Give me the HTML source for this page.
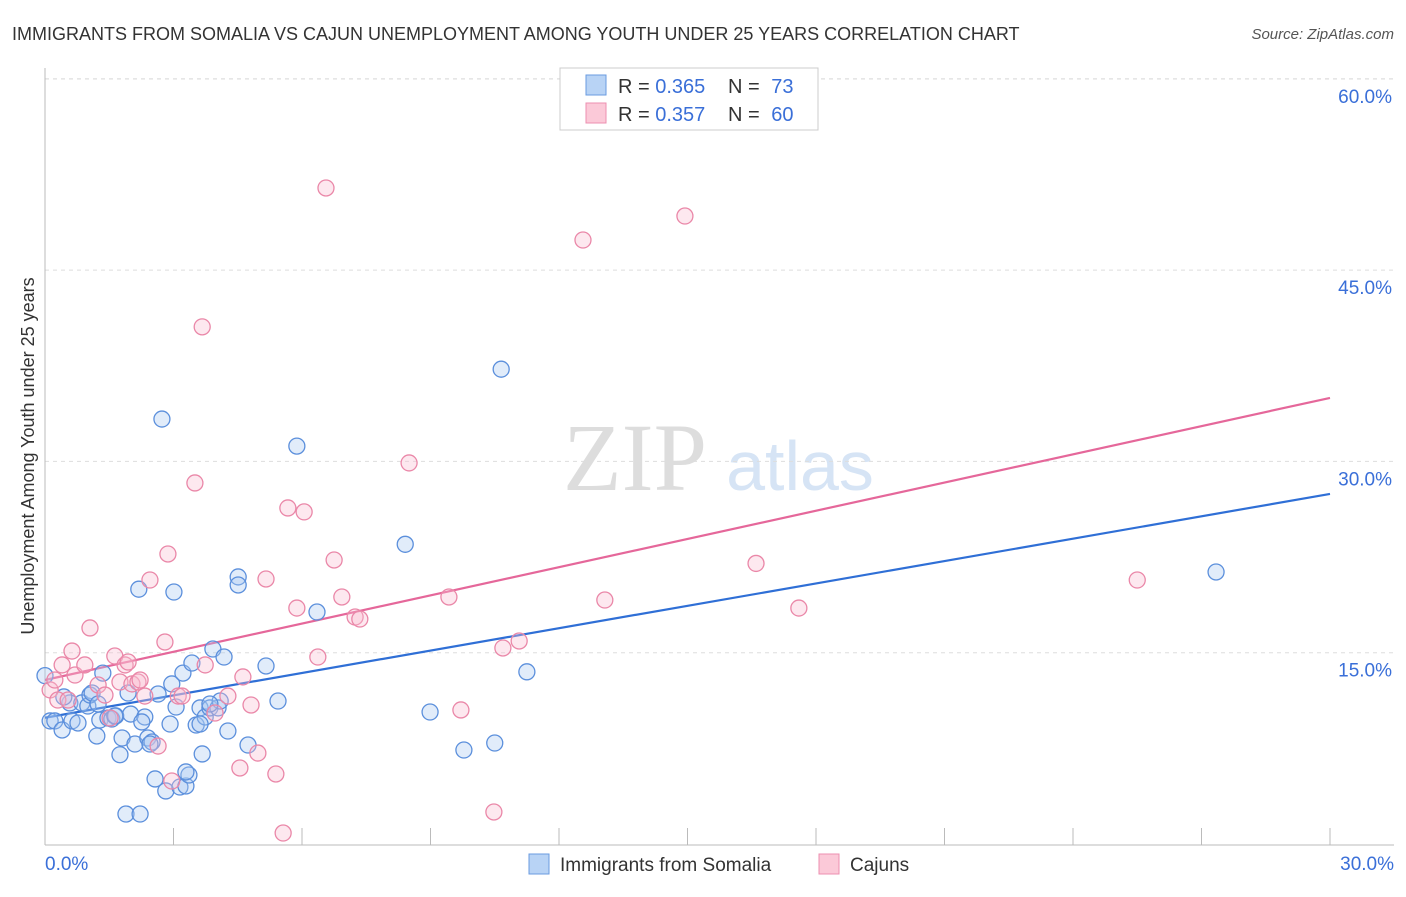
<!DOCTYPE html>
<html><head><meta charset="utf-8"><style>
html,body{margin:0;padding:0;background:#fff;}
body{width:1406px;height:892px;overflow:hidden;font-family:"Liberation Sans",sans-serif;}
</style></head><body>
<svg id="chart" width="1406" height="892" xmlns="http://www.w3.org/2000/svg" font-family="Liberation Sans, sans-serif">
<text x="12" y="40" font-size="18" fill="#333">IMMIGRANTS FROM SOMALIA VS CAJUN UNEMPLOYMENT AMONG YOUTH UNDER 25 YEARS CORRELATION CHART</text>
<text x="1394" y="39" font-size="15" fill="#555" font-style="italic" text-anchor="end">Source: ZipAtlas.com</text>
<g>
<text x="635" y="490" font-size="96" fill="#ddd" font-family="Liberation Serif, serif" text-anchor="middle">ZIP</text>
<text x="800" y="490" font-size="70" fill="#d6e4f5" text-anchor="middle">atlas</text>
</g>
<g id="grid"></g>
<g id="axes"></g>
<g id="lines"></g>
<g id="points"></g>
<text transform="translate(34,456) rotate(-90)" font-size="18" fill="#333" text-anchor="middle">Unemployment Among Youth under 25 years</text>
<g>
<rect x="560" y="68" width="258" height="62" fill="#fff" stroke="#ccc"/>
<rect x="586" y="75" width="20" height="20" fill="#b8d3f5" stroke="#6a9be0"/>
<text x="618" y="93" font-size="20" fill="#333">R = <tspan fill="#3a6fd8">0.365</tspan></text>
<text x="728" y="93" font-size="20" fill="#333">N = <tspan fill="#3a6fd8" dx="6">73</tspan></text>
<rect x="586" y="103" width="20" height="20" fill="#fbc9d8" stroke="#ec8fb0"/>
<text x="618" y="121" font-size="20" fill="#333">R = <tspan fill="#3a6fd8">0.357</tspan></text>
<text x="728" y="121" font-size="20" fill="#333">N = <tspan fill="#3a6fd8" dx="6">60</tspan></text>
</g>
<g>
<rect x="529" y="854" width="20" height="20" fill="#b8d3f5" stroke="#6a9be0"/>
<text x="560" y="871" font-size="19" fill="#333">Immigrants from Somalia</text>
<rect x="819" y="854" width="20" height="20" fill="#fbc9d8" stroke="#ec8fb0"/>
<text x="850" y="871" font-size="19" fill="#333">Cajuns</text>
</g>
</svg>
<script>
const yTicks=[15,30,45,60];
const yTickLabels=["15.0%","30.0%","45.0%","60.0%"];
const xTicks=[0,3,6,9,12,15,18,21,24,27,30];
const xLabels=["0.0%","30.0%"];
const somaliaX=[0,0.12,0.23,0.4,0.58,0.63,0.77,0.86,1.0,1.05,1.1,1.21,1.28,1.35,1.47,1.56,1.65,1.75,1.8,1.94,2.0,2.1,2.19,2.33,2.4,2.5,2.57,2.64,2.73,2.82,2.92,3.01,3.06,3.15,3.22,3.29,3.36,3.43,3.53,3.62,3.67,3.74,3.85,3.92,4.04,4.09,4.18,4.27,4.51,4.51,4.74,5.16,5.44,5.88,6.35,8.41,8.99,9.78,10.5,10.65,11.25,27.34,1.89,2.22,3.29,1.24,0.44,1.63,2.45,3.62,3.85,2.96,2.26];
const somaliaY=[13.2,9.65,9.65,8.94,11.06,9.65,9.49,11.06,10.82,11.68,11.84,8.47,9.72,13.4,9.88,9.8,10.04,7.0,8.31,11.84,10.19,7.84,19.98,9.96,8.31,8.0,5.1,11.76,33.32,4.16,9.41,19.76,10.74,4.47,13.4,4.55,5.41,14.19,9.33,10.67,7.06,9.96,10.67,15.29,10.67,11.21,14.66,8.86,20.94,20.31,7.76,13.96,11.21,31.2,18.19,23.5,10.35,7.37,7.92,37.23,13.5,21.33,2.35,2.35,5.65,10.98,11.53,10.04,7.84,9.41,10.98,12.55,9.57];
const cajunX=[0.12,0.23,0.3,0.4,0.54,0.63,0.7,0.93,1.05,1.24,1.4,1.52,1.63,1.75,1.87,1.94,2.03,2.17,2.22,2.33,2.45,2.64,2.8,2.87,2.96,3.11,3.2,3.5,3.67,3.74,3.97,4.27,4.55,4.62,4.81,4.97,5.16,5.39,5.56,5.67,5.88,6.05,6.37,6.56,6.75,6.93,7.24,7.35,8.5,9.43,9.71,10.48,10.69,11.07,12.56,13.07,14.94,16.6,17.6,25.5];
const cajunY=[12.08,12.86,11.29,14.04,11.29,15.13,13.25,14.04,16.94,12.47,11.68,9.88,14.74,12.7,14.04,14.27,12.55,12.7,12.86,11.6,20.7,7.68,15.84,22.74,4.94,11.6,11.6,28.31,40.55,14.04,10.27,11.6,5.96,13.1,10.9,7.13,20.78,5.49,0.86,26.35,18.5,26.04,14.66,51.44,22.27,19.37,17.8,17.64,29.88,19.37,10.51,2.51,15.37,15.92,47.36,19.13,49.24,22.0,18.5,20.7];
const blueLine=[9.9,27.45];
const pinkLine=[12.86,34.98];
const X=v=>45+v*(1285/30);
const Y=v=>844-v*(191.3/15);
const NS="http://www.w3.org/2000/svg";
function mk(tag,parent,attrs){const e=document.createElementNS(NS,tag);for(const k in attrs)e.setAttribute(k,attrs[k]);document.getElementById(parent).appendChild(e);return e;}
yTicks.forEach((t,i)=>{
 const g=mk('line','grid',{x1:45,x2:1394,y1:Y(t),y2:Y(t),stroke:'#ddd','stroke-dasharray':'4,4'});
 
 
 const l=mk('text','axes',{x:1392,y:Y(t)+24,'font-size':19,fill:'#3a6fd8','text-anchor':'end'});
 l.textContent=yTickLabels[i];
 
 
});
const tl=mk('line','grid',{x1:45,x2:1394,y1:79,y2:79,stroke:'#ddd','stroke-dasharray':'4,4'});


const ya=mk('line','axes',{x1:45,x2:45,y1:68,y2:845,stroke:'#bbb'});


const xa=mk('line','axes',{x1:45,x2:1394,y1:845,y2:845,stroke:'#bbb'});


xTicks.forEach(t=>{
 const k=mk('line','axes',{x1:X(t),x2:X(t),y1:828,y2:845,stroke:'#bbb'});
 
 
});
[[0,'start',45],[30,'end',1394]].forEach((d,i)=>{
 const l=mk('text','axes',{x:d[2],y:870,'font-size':19,fill:'#3a6fd8','text-anchor':d[1]});
 l.textContent=xLabels[i];
 
 
});
function drawPts(xs,ys,fill,stroke,name){
 xs.forEach((x,i)=>{
  const c=mk('circle','points',{cx:X(x),cy:Y(ys[i]),r:8,fill:fill,'fill-opacity':0.35,stroke:stroke,'stroke-width':1.3});
  
  
 });
}
drawPts(somaliaX,somaliaY,'#a8c8f0','#5b8fdc','somalia-point');
drawPts(cajunX,cajunY,'#f8bcd0','#ea87a8','cajun-point');
const bl=mk('line','lines',{x1:X(0),y1:Y(blueLine[0]),x2:X(30),y2:Y(blueLine[1]),stroke:'#2f6fd6','stroke-width':2.2});


const pl=mk('line','lines',{x1:X(0),y1:Y(pinkLine[0]),x2:X(30),y2:Y(pinkLine[1]),stroke:'#e5679a','stroke-width':2.2});


</script>
</body></html>
